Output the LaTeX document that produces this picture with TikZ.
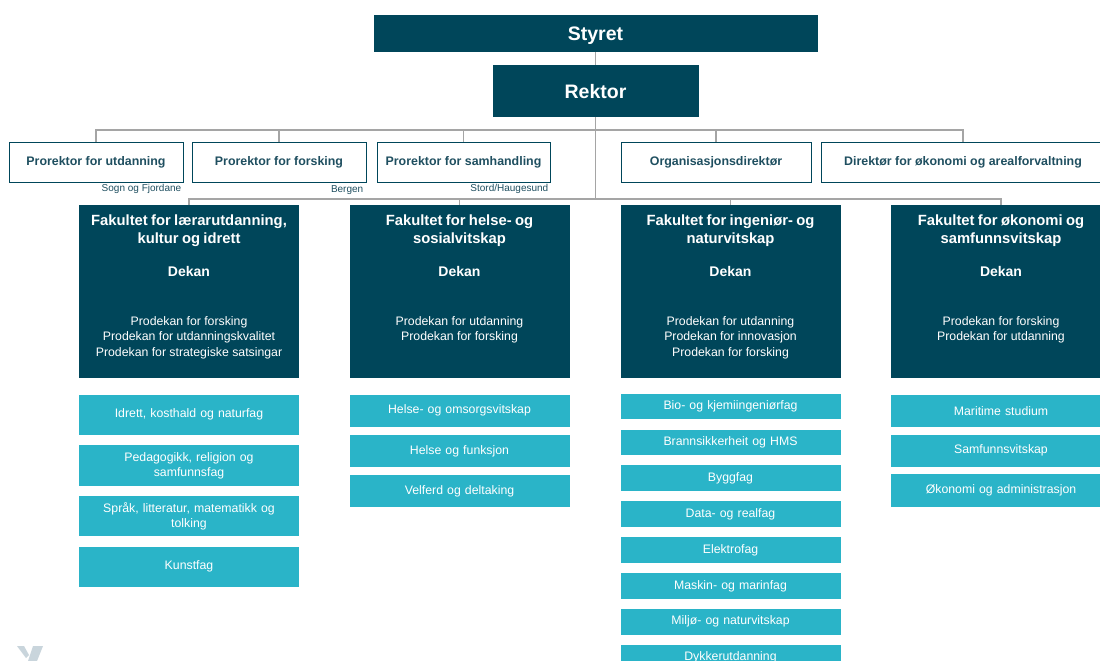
\documentclass[tikz,border=0pt]{standalone}
\usepackage{fontspec}
\setmainfont{Liberation Sans}
\usepackage{xcolor}
\usetikzlibrary{positioning}

\definecolor{hvldark}{HTML}{00465A}
\definecolor{hvlcyan}{HTML}{2AB4C8}
\definecolor{hvltext}{HTML}{1F4F60}
\definecolor{linegray}{HTML}{A5A5A5}
\definecolor{logogray}{HTML}{C9D5DC}

\newcommand{\fakinnhald}[2]{%
  {\fontsize{14.8}{18}\selectfont\bfseries #1\par}\vspace{17pt}%
  {\fontsize{14}{16}\selectfont\bfseries Dekan\par}\vspace{33.5pt}%
  {\fontsize{12.3}{15.5}\selectfont #2\par}}

\begin{document}
\begin{tikzpicture}[x=1pt, y=-1pt, node distance=10pt]
    \tikzstyle{top}=[fill=hvldark, text=white, font=\bfseries\fontsize{19.5}{22}\selectfont, inner sep=0pt, text depth=0pt]
    \tikzstyle{pro}=[draw=hvldark, line width=0.9pt, fill=white, text=hvltext, font=\bfseries\fontsize{12.4}{14}\selectfont, minimum height=40pt, inner sep=0pt]
    \tikzstyle{stad}=[text=hvltext, font=\fontsize{10}{11}\selectfont, inner sep=0pt]
    \tikzstyle{fak}=[anchor=north, fill=hvldark, text=white, text width=210pt, align=center, inner xsep=5pt, inner ysep=0pt, text height=20pt, text depth=153pt]
    \tikzstyle{inst}=[fill=hvlcyan, text=white, font=\fontsize{12.3}{15}\selectfont, minimum width=220pt, text width=210pt, align=center, inner sep=0pt]
    \tikzstyle{conn}=[draw=linegray, line width=1.1pt]

    \fill[white] (0,0) rectangle (1100,661);
    \useasboundingbox (0,0) rectangle (1100,661);

    \node[top, minimum width=444pt, minimum height=37pt] (styret) at (595.5,33.5) {Styret};
    \node[top, minimum width=206pt, minimum height=52pt] (rektor) at (595.5,91) {Rektor};

    \node[pro, minimum width=174pt] (pu)  at (96,162)    {Prorektor for utdanning};
    \node[pro, minimum width=174pt] (pf)  at (279,162)   {Prorektor for forsking};
    \node[pro, minimum width=173pt] (ps)  at (463.5,162) {Prorektor for samhandling};
    \node[pro, minimum width=190pt] (od)  at (716,162)   {Organisasjonsdirektør};
    \node[pro, minimum width=284pt] (dir) at (963,162)   {Direktør for økonomi og arealforvaltning};

    \node[stad, below left=1.5pt and 2pt of pu.south east] (sogn)   {Sogn og Fjordane};
    \node[stad, below left=2.5pt and 3pt of pf.south east] (bergen) {Bergen};
    \node[stad, below left=1.5pt and 2pt of ps.south east] (stord)  {Stord/Haugesund};

    \node[fak] (F1) at (189,205)  {\fakinnhald{Fakultet for lærarutdanning,\\kultur og idrett}{Prodekan for forsking\\Prodekan for utdanningskvalitet\\Prodekan for strategiske satsingar}};
    \node[fak] (F2) at (459.5,205) {\fakinnhald{Fakultet for helse- og\\sosialvitskap}{Prodekan for utdanning\\Prodekan for forsking}};
    \node[fak] (F3) at (730.5,205) {\fakinnhald{Fakultet for ingeniør- og\\naturvitskap}{Prodekan for utdanning\\Prodekan for innovasjon\\Prodekan for forsking}};
    \node[fak] (F4) at (1001,205)  {\fakinnhald{Fakultet for økonomi og\\samfunnsvitskap}{Prodekan for forsking\\Prodekan for utdanning}};

    \node[inst, minimum height=40pt, below=16pt of F1] (F1a) {Idrett, kosthald og naturfag};
    \node[inst, minimum height=41pt, below=10pt of F1a] (F1b) {Pedagogikk, religion og\\samfunnsfag};
    \node[inst, minimum height=40pt, below=10pt of F1b] (F1c) {Språk, litteratur, matematikk og\\tolking};
    \node[inst, minimum height=40pt, below=10pt of F1c] (F1d) {Kunstfag};

    \node[inst, minimum height=32pt, below=16pt of F2] (F2a) {Helse- og omsorgsvitskap};
    \node[inst, minimum height=32pt, below=8pt of F2a]  (F2b) {Helse og funksjon};
    \node[inst, minimum height=32pt, below=8pt of F2b]  (F2c) {Velferd og deltaking};

    \node[inst, minimum height=25.5pt, below=15pt of F3] (F3a) {Bio- og kjemiingeniørfag};
    \node[inst, minimum height=25.5pt, below=of F3a] (F3b) {Brannsikkerheit og HMS};
    \node[inst, minimum height=25.5pt, below=of F3b] (F3c) {Byggfag};
    \node[inst, minimum height=25.5pt, below=of F3c] (F3d) {Data- og realfag};
    \node[inst, minimum height=25.5pt, below=of F3d] (F3e) {Elektrofag};
    \node[inst, minimum height=25.5pt, below=of F3e] (F3f) {Maskin- og marinfag};
    \node[inst, minimum height=25.5pt, below=of F3f] (F3g) {Miljø- og naturvitskap};
    \node[inst, minimum height=25.5pt, below=of F3g] (F3h) {Dykkerutdanning};

    \node[inst, minimum height=32.5pt, below=16pt of F4] (F4a) {Maritime studium};
    \node[inst, minimum height=32.5pt, below=7pt of F4a] (F4b) {Samfunnsvitskap};
    \node[inst, minimum height=32.5pt, below=7pt of F4b] (F4c) {Økonomi og administrasjon};

    \coordinate (leiarlinje) at (595.5,130);
    \coordinate (fakultetlinje) at (595.5,199);

    \draw[conn] (styret) -- (rektor);
    \draw[conn] (rektor) -- (fakultetlinje);
    \draw[conn] (pu.north) |- (leiarlinje) -| (dir.north);
    \draw[conn] (pf.north) -- (pf.north |- leiarlinje);
    \draw[conn] (ps.north) -- (ps.north |- leiarlinje);
    \draw[conn] (od.north) -- (od.north |- leiarlinje);
    \draw[conn] (F1.north) |- (fakultetlinje) -| (F4.north);
    \draw[conn] (F2.north) -- (F2.north |- fakultetlinje);
    \draw[conn] (F3.north) -- (F3.north |- fakultetlinje);

    % logo
    \fill[logogray] (17,646) -- (24,646) -- (29,655) -- (26,658) -- cycle;
    \fill[logogray] (33,646) -- (43,646) -- (37,661) -- (28,661) -- cycle;
\end{tikzpicture}
\end{document}
